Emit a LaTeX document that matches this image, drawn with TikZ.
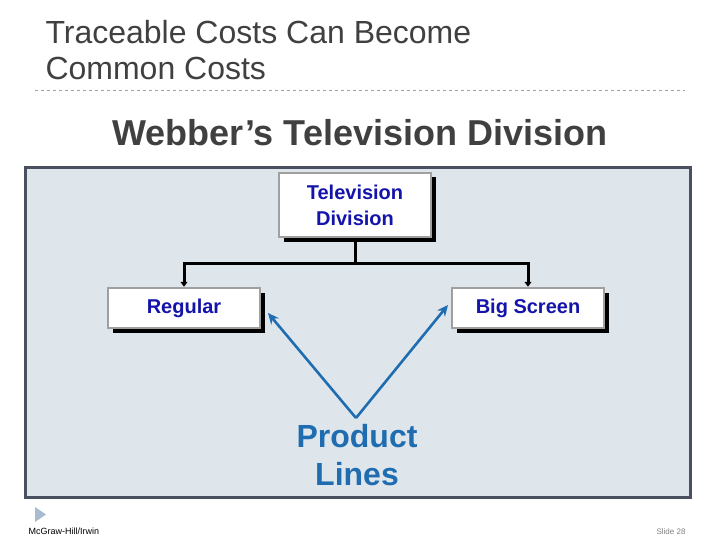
\documentclass[tikz,border=0pt]{standalone}
\usepackage{fontspec}
\setmainfont{Liberation Sans}
\usetikzlibrary{arrows.meta,shadows}
\definecolor{panelfill}{RGB}{222,230,236}
\definecolor{paneldraw}{RGB}{74,80,96}
\definecolor{boxdraw}{RGB}{160,160,160}
\definecolor{boxtext}{RGB}{20,20,170}
\definecolor{lineblue}{RGB}{31,109,176}
\definecolor{titlegray}{RGB}{64,64,64}
\definecolor{footertri}{RGB}{168,188,208}
\tikzset{unitbox/.style={draw=boxdraw,line width=2.5pt,fill=white,minimum width=152pt,inner sep=0pt,
    align=center,text=boxtext,font=\fontsize{20}{26}\selectfont\bfseries,
    drop shadow={shadow xshift=4.5pt,shadow yshift=-4.5pt,fill=black,opacity=1}},
  treeline/.style={line width=3pt,-{Triangle[length=5pt,width=7pt]}},
  pointer/.style={line width=2.6pt,draw=lineblue,-{Stealth[length=11pt,width=10pt]}}}

\begin{document}
\begin{tikzpicture}[x=1pt,y=-1pt]
      \useasboundingbox (0,0) rectangle (720,540);
      \node[anchor=base west,text=titlegray,font=\fontsize{32}{37}\selectfont] (t1) at (42,44) {Traceable Costs Can Become};
      \node[anchor=base west,text=titlegray,font=\fontsize{32}{37}\selectfont] (t2) at (42,80) {Common Costs};
      \draw[boxdraw,dashed,line width=0.8pt] (35,90) -- (685,90);
      \node[anchor=base,text=titlegray,font=\fontsize{36}{40}\selectfont\bfseries] (head) at (360,146) {Webber’s Television Division};
      \draw[fill=panelfill,draw=paneldraw,line width=3pt] (25,168) rectangle (690,497);
      \node[unitbox,minimum height=64pt] (tv) at (355,205) {Television\\Division};
      \node[unitbox,minimum height=40pt] (reg) at (184,308) {Regular};
      \node[unitbox,minimum height=40pt] (big) at (528,308) {Big Screen};
      \coordinate (apex) at (356,418);
      \coordinate (toreg) at (268,313);
      \coordinate (tobig) at (448,305);
      \node[text=lineblue,align=center,font=\fontsize{32}{38}\selectfont\bfseries] (lines) at (357,455) {Product\\Lines};

\foreach \b in {reg,big}
  \draw[treeline] (tv.south) -- ++(0,25) -| (\b.north);
\foreach \b in {toreg,tobig}
  \draw[pointer] (apex) -- (\b);

      \fill[footertri] (35,507) -- (46,514.5) -- (35,522) -- cycle;
      \node[anchor=base west,font=\fontsize{9}{10}\selectfont] (firm) at (25,534) {McGraw-Hill/Irwin};
      \node[anchor=base east,text=gray,font=\fontsize{8}{10}\selectfont] (slide) at (689,534) {Slide 28};
    \end{tikzpicture}
\end{document}
